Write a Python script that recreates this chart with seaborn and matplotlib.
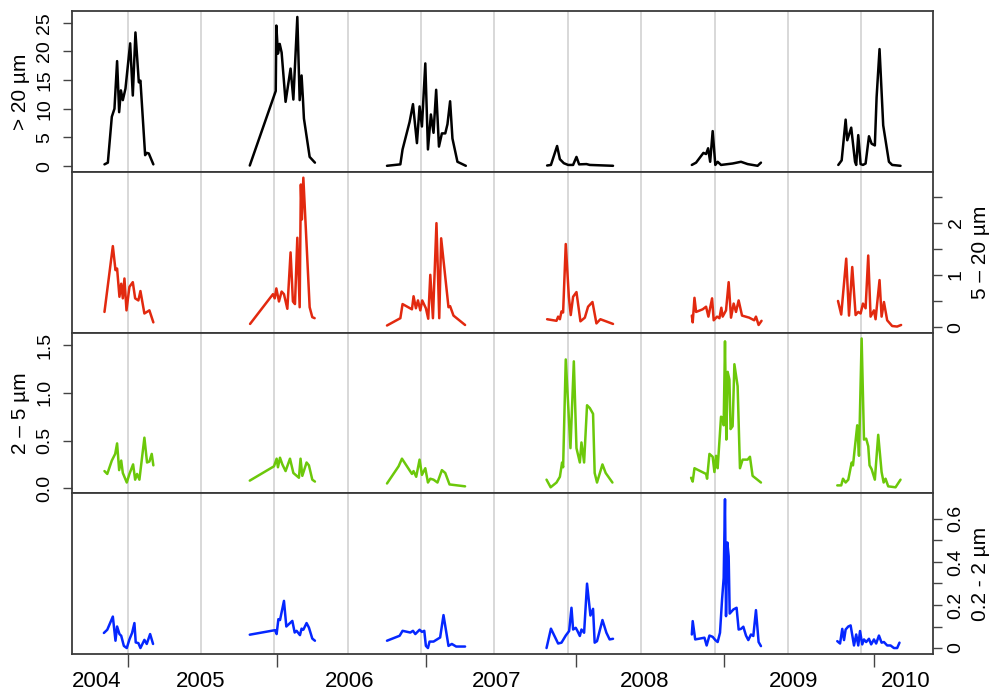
import numpy as np
import pandas as pd
import seaborn as sns
import matplotlib.pyplot as plt

# Sampling dates (decimal years) and concentrations, one pair of lists per size fraction
big_dates = [
    2004.343, 2004.366, 2004.393, 2004.411, 2004.429, 2004.443, 2004.455, 2004.468, 2004.486,
    2004.518, 2004.536, 2004.554, 2004.577, 2004.588, 2004.620, 2004.631, 2004.645, 2004.676,
    2005.333, 2005.510, 2005.514, 2005.525, 2005.537, 2005.550, 2005.577, 2005.611, 2005.630,
    2005.657, 2005.673, 2005.686, 2005.695, 2005.702, 2005.741, 2005.777,
    2006.268, 2006.359, 2006.374, 2006.422, 2006.445, 2006.472, 2006.490, 2006.506, 2006.529,
    2006.547, 2006.567, 2006.585, 2006.603, 2006.622, 2006.642, 2006.665, 2006.680, 2006.698,
    2006.714, 2006.748, 2006.805,
    2007.359, 2007.385, 2007.427, 2007.446, 2007.473, 2007.502, 2007.536, 2007.559, 2007.577,
    2007.627, 2007.650, 2007.808,
    2008.345, 2008.374, 2008.424, 2008.442, 2008.456, 2008.470, 2008.487, 2008.505, 2008.521,
    2008.544, 2008.623, 2008.680, 2008.725, 2008.793, 2008.816,
    2009.343, 2009.366, 2009.393, 2009.404, 2009.431, 2009.457, 2009.465, 2009.479, 2009.495,
    2009.511, 2009.529, 2009.552, 2009.570, 2009.592, 2009.604, 2009.624, 2009.649, 2009.688,
    2009.710, 2009.767,
]
big_vals = [
    0.3, 0.6, 8.6, 10.0, 18.3, 9.4, 13.2, 11.5, 13.5, 21.4, 12.3, 23.3, 14.6, 14.9, 1.9, 2.3, 2.2, 0.3,
    0.1, 13.1, 24.5, 19.6, 21.3, 19.8, 11.2, 17.0, 11.6, 26.0, 11.5, 15.8, 11.8, 8.3, 1.6, 0.6,
    0.05, 0.3, 2.9, 7.7, 10.8, 4.0, 10.4, 6.9, 17.9, 2.9, 9.0, 5.8, 13.3, 3.4, 5.7, 5.7, 7.3, 11.3,
    4.8, 0.75, 0.05,
    0.1, 0.2, 3.5, 1.2, 0.5, 0.2, 0.2, 1.6, 0.3, 0.35, 0.2, 0.05,
    0.2, 0.6, 2.3, 2.1, 3.1, 0.75, 6.1, 0.2, 0.75, 0.2, 0.45, 0.75, 0.35, 0.05, 0.6,
    0.2, 1.0, 8.1, 4.5, 6.7, 0.75, 0.2, 5.4, 0.35, 0.2, 0.45, 5.2, 3.9, 3.6, 12.0, 20.4, 7.1, 0.75,
    0.2, 0.05,
]

coarse_dates = [
    2004.343, 2004.400, 2004.418, 2004.429, 2004.445, 2004.457, 2004.468, 2004.479, 2004.493,
    2004.513, 2004.536, 2004.552, 2004.574, 2004.588, 2004.615, 2004.649, 2004.676,
    2005.335, 2005.491, 2005.503, 2005.514, 2005.532, 2005.550, 2005.566, 2005.589, 2005.611,
    2005.627, 2005.641, 2005.657, 2005.673, 2005.681, 2005.688, 2005.698, 2005.741, 2005.759,
    2005.775,
    2006.268, 2006.359, 2006.374, 2006.438, 2006.449, 2006.465, 2006.479, 2006.495, 2006.508,
    2006.533, 2006.549, 2006.563, 2006.581, 2006.605, 2006.624, 2006.637, 2006.687, 2006.698,
    2006.721, 2006.800,
    2007.359, 2007.423, 2007.434, 2007.446, 2007.457, 2007.468, 2007.486, 2007.507, 2007.520,
    2007.536, 2007.559, 2007.586, 2007.616, 2007.638, 2007.668, 2007.695, 2007.722, 2007.808,
    2008.345, 2008.351, 2008.363, 2008.374, 2008.419, 2008.442, 2008.458, 2008.483, 2008.494,
    2008.517, 2008.533, 2008.546, 2008.555, 2008.578, 2008.596, 2008.612, 2008.630, 2008.646,
    2008.664, 2008.687, 2008.736, 2008.770, 2008.782, 2008.800, 2008.820,
    2009.341, 2009.363, 2009.397, 2009.416, 2009.438, 2009.461, 2009.479, 2009.495, 2009.511,
    2009.529, 2009.547, 2009.563, 2009.586, 2009.597, 2009.624, 2009.638, 2009.654, 2009.676,
    2009.710, 2009.744, 2009.771,
]
coarse_vals = [
    0.29, 1.55, 1.09, 1.12, 0.58, 0.83, 0.55, 0.93, 0.32, 0.77, 0.86, 0.55, 0.51, 0.69, 0.26, 0.32, 0.09,
    0.06, 0.63, 0.55, 0.74, 0.49, 0.68, 0.63, 0.35, 1.43, 0.49, 0.44, 1.71, 0.38, 2.73, 2.06, 2.86,
    0.38, 0.19, 0.17,
    0.03, 0.17, 0.44, 0.34, 0.59, 0.36, 0.51, 0.32, 0.51, 0.36, 0.16, 1.0, 0.17, 1.99, 0.17, 1.70,
    0.38, 0.4, 0.22, 0.04,
    0.15, 0.12, 0.2, 0.15, 0.3, 0.28, 1.59, 0.58, 0.23, 0.58, 0.67, 0.11, 0.18, 0.39, 0.48, 0.07,
    0.15, 0.06,
    0.22, 0.09, 0.56, 0.29, 0.34, 0.39, 0.2, 0.55, 0.13, 0.2, 0.17, 0.37, 0.2, 0.32, 0.86, 0.18,
    0.45, 0.29, 0.51, 0.22, 0.18, 0.13, 0.2, 0.04, 0.12,
    0.5, 0.24, 1.31, 0.22, 1.15, 0.23, 0.29, 0.26, 0.45, 0.36, 1.37, 0.2, 0.32, 0.15, 0.9, 0.2,
    0.48, 0.13, 0.02, 0.01, 0.04,
]

mid_dates = [
    2004.343, 2004.362, 2004.393, 2004.416, 2004.429, 2004.443, 2004.457, 2004.468, 2004.495,
    2004.513, 2004.538, 2004.552, 2004.565, 2004.581, 2004.615, 2004.633, 2004.649, 2004.665,
    2004.676,
    2005.333, 2005.498, 2005.516, 2005.525, 2005.539, 2005.555, 2005.577, 2005.607, 2005.630,
    2005.668, 2005.679, 2005.691, 2005.720, 2005.736, 2005.759, 2005.777,
    2006.268, 2006.347, 2006.370, 2006.404, 2006.438, 2006.449, 2006.467, 2006.490, 2006.506,
    2006.529, 2006.547, 2006.563, 2006.585, 2006.612, 2006.642, 2006.665, 2006.694, 2006.800,
    2007.355, 2007.383, 2007.423, 2007.446, 2007.461, 2007.468, 2007.486, 2007.518, 2007.541,
    2007.559, 2007.582, 2007.593, 2007.611, 2007.631, 2007.650, 2007.672, 2007.683, 2007.699,
    2007.736, 2007.758, 2007.804,
    2008.340, 2008.351, 2008.363, 2008.442, 2008.449, 2008.465, 2008.487, 2008.499, 2008.510,
    2008.521, 2008.544, 2008.555, 2008.562, 2008.571, 2008.580, 2008.589, 2008.601, 2008.609,
    2008.623, 2008.635, 2008.657, 2008.673, 2008.691, 2008.725, 2008.741, 2008.759, 2008.816,
    2009.336, 2009.363, 2009.375, 2009.393, 2009.411, 2009.434, 2009.443, 2009.472, 2009.484,
    2009.502, 2009.518, 2009.533, 2009.547, 2009.556, 2009.570, 2009.592, 2009.615, 2009.638,
    2009.652, 2009.665, 2009.683, 2009.733, 2009.767,
]
mid_vals = [
    0.18, 0.15, 0.29, 0.36, 0.47, 0.19, 0.29, 0.16, 0.06, 0.15, 0.25, 0.09, 0.15, 0.09, 0.53, 0.27,
    0.28, 0.36, 0.24,
    0.08, 0.23, 0.31, 0.22, 0.32, 0.25, 0.18, 0.31, 0.16, 0.11, 0.31, 0.13, 0.27, 0.24, 0.09, 0.07,
    0.05, 0.23, 0.31, 0.23, 0.15, 0.18, 0.12, 0.3, 0.14, 0.21, 0.06, 0.1, 0.09, 0.06, 0.19, 0.16,
    0.04, 0.02,
    0.09, 0.01, 0.06, 0.12, 0.27, 0.22, 1.35, 0.42, 1.33, 0.42, 0.27, 0.48, 0.27, 0.87, 0.84, 0.78,
    0.16, 0.06, 0.25, 0.16, 0.06,
    0.11, 0.07, 0.21, 0.15, 0.1, 0.36, 0.33, 0.17, 0.34, 0.21, 0.75, 0.73, 0.66, 1.54, 0.51, 1.22,
    1.14, 0.62, 0.65, 1.3, 1.07, 0.21, 0.3, 0.3, 0.33, 0.13, 0.06,
    0.03, 0.03, 0.1, 0.06, 0.09, 0.27, 0.24, 0.66, 0.34, 1.57, 0.51, 0.52, 0.44, 0.24, 0.2, 0.09,
    0.56, 0.17, 0.06, 0.1, 0.02, 0.01, 0.09,
]

fine_dates = [
    2004.339, 2004.362, 2004.400, 2004.418, 2004.429, 2004.445, 2004.457, 2004.475, 2004.495,
    2004.513, 2004.531, 2004.547, 2004.556, 2004.574, 2004.588, 2004.615, 2004.631, 2004.654,
    2004.674,
    2005.333, 2005.505, 2005.516, 2005.528, 2005.539, 2005.566, 2005.582, 2005.623, 2005.639,
    2005.652, 2005.675, 2005.686, 2005.698, 2005.720, 2005.736, 2005.759, 2005.777,
    2006.268, 2006.354, 2006.374, 2006.427, 2006.445, 2006.461, 2006.490, 2006.506, 2006.522,
    2006.533, 2006.547, 2006.558, 2006.585, 2006.630, 2006.653, 2006.687, 2006.710, 2006.739,
    2006.800,
    2007.355, 2007.385, 2007.412, 2007.434, 2007.457, 2007.486, 2007.509, 2007.525, 2007.536,
    2007.554, 2007.566, 2007.582, 2007.593, 2007.611, 2007.631, 2007.654, 2007.672, 2007.683,
    2007.699, 2007.736, 2007.763, 2007.785, 2007.808,
    2008.345, 2008.351, 2008.368, 2008.431, 2008.446, 2008.465, 2008.487, 2008.505, 2008.521,
    2008.537, 2008.551, 2008.562, 2008.571, 2008.578, 2008.587, 2008.596, 2008.603, 2008.628,
    2008.650, 2008.664, 2008.680, 2008.696, 2008.714, 2008.730, 2008.748, 2008.764, 2008.782,
    2008.800, 2008.816,
    2009.336, 2009.355, 2009.370, 2009.382, 2009.393, 2009.411, 2009.427, 2009.450, 2009.465,
    2009.479, 2009.491, 2009.506, 2009.518, 2009.533, 2009.552, 2009.567, 2009.586, 2009.601,
    2009.620, 2009.638, 2009.654, 2009.676, 2009.699, 2009.722, 2009.744, 2009.760,
]
fine_vals = [
    0.07, 0.085, 0.146, 0.034, 0.10, 0.065, 0.057, 0.01, 0.0, 0.04, 0.07, 0.116, 0.026, 0.023, 0.0,
    0.038, 0.019, 0.065, 0.019,
    0.062, 0.083, 0.065, 0.134, 0.13, 0.219, 0.1, 0.126, 0.072, 0.08, 0.06, 0.09, 0.085, 0.116,
    0.095, 0.044, 0.034,
    0.034, 0.057, 0.08, 0.072, 0.08, 0.065, 0.085, 0.075, 0.08, 0.01, 0.0, 0.03, 0.03, 0.049, 0.153,
    0.01, 0.019, 0.007, 0.007,
    0.0, 0.09, 0.052, 0.021, 0.025, 0.058, 0.079, 0.187, 0.086, 0.094, 0.079, 0.056, 0.086, 0.071,
    0.299, 0.151, 0.182, 0.025, 0.032, 0.13, 0.071, 0.04, 0.043,
    0.063, 0.125, 0.04, 0.048, 0.012, 0.058, 0.052, 0.037, 0.028, 0.071, 0.225, 0.325, 0.691, 0.148,
    0.49, 0.426, 0.16, 0.179, 0.187, 0.086, 0.089, 0.099, 0.058, 0.037, 0.063, 0.056, 0.176, 0.028,
    0.009,
    0.032, 0.021, 0.089, 0.037, 0.086, 0.10, 0.105, 0.012, 0.063, 0.012, 0.079, 0.017, 0.04, 0.028,
    0.043, 0.017, 0.04, 0.021, 0.058, 0.025, 0.028, 0.012, 0.012, 0.0, 0.0, 0.025,
]

# Axis furniture
grid_years = [2004.5, 2005.0, 2005.5, 2006.0, 2006.5, 2007.0, 2007.5, 2008.0, 2008.5, 2009.0, 2009.5]
tick_years = [2004.504, 2005.516, 2006.535, 2007.554, 2008.567, 2009.586]
year_labels = ["2004", "2005", "2006", "2007", "2008", "2009", "2010"]
year_label_pos = [2004.287, 2005.0, 2006.012, 2007.018, 2008.023, 2009.035, 2009.803]

panels = [
    (big_dates, big_vals, "black", "> 20 µm", "left",
     [0, 5, 10, 15, 20, 25], ["0", "5", "10", "15", "20", "25"]),
    (coarse_dates, coarse_vals, "#e2290f", "5 – 20 µm", "right",
     [0, 0.5, 1, 1.5, 2, 2.5], ["0", "", "1", "", "2", ""]),
    (mid_dates, mid_vals, "#6cc80a", "2 – 5 µm", "left",
     [0, 0.5, 1.0, 1.5], ["0.0", "0.5", "1.0", "1.5"]),
    (fine_dates, fine_vals, "#0527ff", "0.2 - 2 µm", "right",
     [0, 0.1, 0.2, 0.3, 0.4, 0.5, 0.6], ["0", "", "0.2", "", "0.4", "", "0.6"]),
]


def r_limits(values):
    # R-style axis range: data range padded by 4% on each side
    lo, hi = min(values), max(values)
    pad = 0.04 * (hi - lo)
    return lo - pad, hi + pad


sns.set_style("white")
plt.rcParams['font.family'] = ['Liberation Sans', 'DejaVu Sans']
plt.rcParams['text.color'] = 'black'
plt.rcParams['axes.labelcolor'] = 'black'
plt.rcParams['xtick.color'] = 'black'
plt.rcParams['ytick.color'] = 'black'

fig, axes = plt.subplots(4, 1, sharex=True, figsize=(9.9, 6.95), dpi=100)
fig.subplots_adjust(left=72 / 990, right=933 / 990, top=1 - 11 / 695, bottom=1 - 654 / 695, hspace=0)

all_dates = big_dates + coarse_dates + mid_dates + fine_dates

for ax, (dates, vals, color, label, side, yt, ytl) in zip(axes, panels):
    df = pd.DataFrame({"date": dates, "value": vals})
    df["season"] = (df["date"].diff() > 0.3).cumsum()

    for g in grid_years:
        ax.axvline(g, color="#d6d6d6", lw=1.3, zorder=0)

    sns.lineplot(data=df, x="date", y="value", units="season", estimator=None, sort=False,
                 color=color, linewidth=1.8, ax=ax, legend=False)

    ax.set_xlim(*r_limits(all_dates))
    ax.set_ylim(*r_limits(vals))
    ax.set_xlabel("")

    ax.set_yticks(yt)
    ax.set_yticklabels(ytl, rotation=90, va="center", fontsize=14)
    on_left = side == "left"
    ax.tick_params(axis="y", left=on_left, right=not on_left, labelleft=on_left,
                   labelright=not on_left, length=6.5, width=1, color="#444444",
                   labelcolor="black", pad=7 if on_left else 4)

    ax.set_ylabel(label, fontsize=15, color="black")
    if on_left:
        ax.yaxis.set_label_position("left")
        ax.yaxis.set_label_coords(-0.06, 0.5)
    else:
        ax.yaxis.set_label_position("right")
        ax.yaxis.set_label_coords(1.0546, 0.5)
    ax.yaxis.label.set_va("center")
    ax.yaxis.label.set_rotation(90)

    for s in ax.spines.values():
        s.set_color("#3a3a3a")
        s.set_linewidth(1.3)

# Bottom axis: unlabeled ticks plus year labels
bottom = axes[-1]
bottom.set_xticks(tick_years)
bottom.set_xticklabels([])
for ax in axes[:-1]:
    ax.tick_params(axis="x", bottom=False, labelbottom=False)
bottom.tick_params(axis="x", bottom=True, length=9, width=1, color="#444444")
for pos, txt in zip(year_label_pos, year_labels):
    bottom.text(pos, -0.173, txt, transform=bottom.get_xaxis_transform(),
                ha="center", va="center", fontsize=16, color="black")

fig.savefig("out.png", dpi=100)
